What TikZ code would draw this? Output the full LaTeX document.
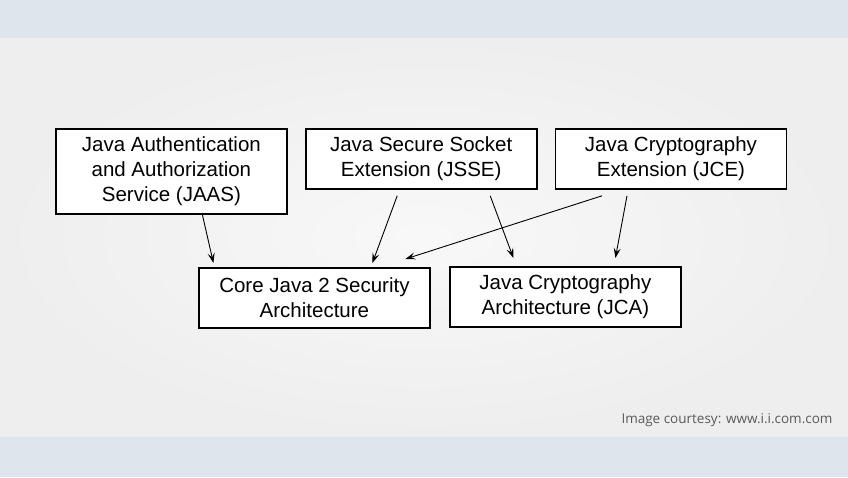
\documentclass[tikz,border=0pt]{standalone}
\usepackage{fontspec}
\setmainfont{Liberation Sans}
\newfontfamily\creditfont{Open Sans}
\usepackage{xcolor}
\usetikzlibrary{arrows.meta,positioning}
\definecolor{bandbg}{HTML}{DEE5EC}
\definecolor{pagebg}{HTML}{EEEEEE}
\definecolor{creditgray}{HTML}{5A5A5A}

\begin{document}
\begin{tikzpicture}[
  x=1pt,y=-1pt,
  node distance=17pt,
  box/.style={draw=black,fill=white,line width=1.8pt,minimum width=231pt,
              minimum height=60pt,inner sep=0pt,align=center,
              font=\fontsize{20.5}{25}\selectfont},
  arr/.style={-{Stealth[length=10pt,width=7pt,inset=4pt]},line width=0.9pt,draw=black}]
  % page
  \fill[bandbg] (0,0) rectangle (848,477);
  \shade[inner color=pagebg!40!white,outer color=pagebg] (0,38) rectangle (848,436);
  \useasboundingbox (0,0) rectangle (848,477);
  % top row
  \node[box,minimum height=85pt,anchor=north west] (jaas) at (55,128)
       {Java Authentication\\and Authorization\\Service (JAAS)};
  \node[box,right=of jaas.north east,anchor=north west] (jsse)
       {Java Secure Socket\\Extension (JSSE)};
  \node[box,right=of jsse.north east,anchor=north west] (jce)
       {Java Cryptography\\Extension (JCE)};
  % bottom row
  \node[box,anchor=north west] (core) at (198,267)
       {Core Java 2 Security\\Architecture};
  \node[box,anchor=north west] (jca) at (449,266)
       {Java Cryptography\\Architecture (JCA)};
  \node[font=\creditfont\fontsize{13.5}{15}\selectfont,text=creditgray,anchor=east]
       (credit) at (836,420) {Image courtesy: www.i.i.com.com};
  \draw[arr] ([xshift=31pt]jaas.south) -- ([xshift=-101pt,yshift=4pt]core.north);
  \draw[arr] ([xshift=-24pt,yshift=-6pt]jsse.south) -- ([xshift=58pt,yshift=4pt]core.north);
  \draw[arr] ([xshift=69pt,yshift=-6pt]jsse.south) -- ([xshift=-52pt,yshift=8pt]jca.north);
  \draw[arr] ([xshift=-69pt,yshift=-6pt]jce.south) -- ([xshift=91pt,yshift=8pt]core.north);
  \draw[arr] ([xshift=-44pt,yshift=-6pt]jce.south) -- ([xshift=50pt,yshift=8pt]jca.north);
\end{tikzpicture}
\end{document}
